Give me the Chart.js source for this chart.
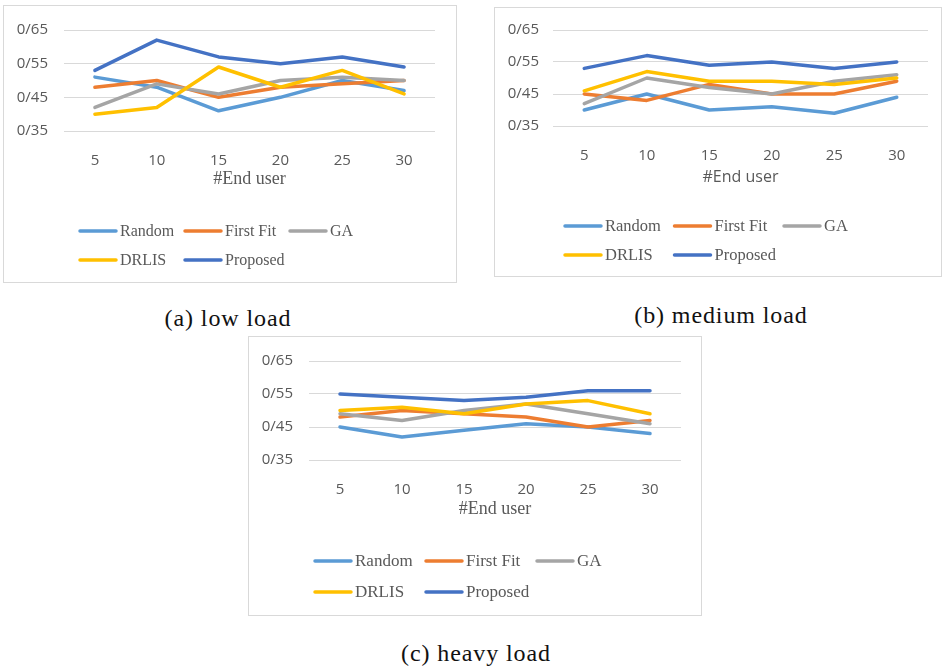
<!DOCTYPE html>
<html>
<head>
<meta charset="utf-8">
<script src="https://cdn.jsdelivr.net/npm/chart.js@4/dist/chart.umd.min.js"></script>
<style>
  html, body { margin: 0; padding: 0; background: #ffffff; }
  body { width: 943px; height: 666px; position: relative; overflow: hidden; }
  .frame { position: absolute; border: 1px solid #d9d9d9; box-sizing: border-box; }
  canvas { position: absolute; }
  .cap {
    position: absolute; transform: translate(-50%, -50%);
    font-family: "Liberation Serif", serif; font-size: 24px; letter-spacing: 0.9px;
    line-height: 1; color: #111; white-space: nowrap;
  }
</style>
</head>
<body>
<div class="frame" style="left:3px;top:5px;width:454px;height:278px"></div>
<canvas id="lowChart" width="454" height="278" style="left:3px;top:5px"></canvas>
<div class="frame" style="left:494px;top:7px;width:448px;height:270px"></div>
<canvas id="mediumChart" width="448" height="270" style="left:494px;top:7px"></canvas>
<div class="frame" style="left:248px;top:336px;width:454px;height:280px"></div>
<canvas id="heavyChart" width="454" height="280" style="left:248px;top:336px"></canvas>

<div class="cap" style="left:228px;top:318px">(a) low load</div>
<div class="cap" style="left:721px;top:315px">(b) medium load</div>
<div class="cap" style="left:476px;top:653px">(c) heavy load</div>

<script>
// Categories and axis ticks
const endUsers = ['5', '10', '15', '20', '25', '30'];
const yTickValues = [0.35, 0.45, 0.55, 0.65];
const seriesNames = ['Random', 'First Fit', 'GA', 'DRLIS', 'Proposed'];
const seriesColors = ['#5B9BD5', '#ED7D31', '#A5A5A5', '#FFC000', '#4472C4'];
const xAxisTitle = '#End user';

// Low load
const lowRandom   = [0.51, 0.48, 0.41, 0.45, 0.50, 0.47];
const lowFirstFit = [0.48, 0.50, 0.45, 0.48, 0.49, 0.50];
const lowGA       = [0.42, 0.49, 0.46, 0.50, 0.51, 0.50];
const lowDRLIS    = [0.40, 0.42, 0.54, 0.48, 0.53, 0.46];
const lowProposed = [0.53, 0.62, 0.57, 0.55, 0.57, 0.54];

// Medium load
const mediumRandom   = [0.40, 0.45, 0.40, 0.41, 0.39, 0.44];
const mediumFirstFit = [0.45, 0.43, 0.48, 0.45, 0.45, 0.49];
const mediumGA       = [0.42, 0.50, 0.47, 0.45, 0.49, 0.51];
const mediumDRLIS    = [0.46, 0.52, 0.49, 0.49, 0.48, 0.50];
const mediumProposed = [0.53, 0.57, 0.54, 0.55, 0.53, 0.55];

// Heavy load
const heavyRandom   = [0.45, 0.42, 0.44, 0.46, 0.45, 0.43];
const heavyFirstFit = [0.48, 0.50, 0.49, 0.48, 0.45, 0.47];
const heavyGA       = [0.49, 0.47, 0.50, 0.52, 0.49, 0.46];
const heavyDRLIS    = [0.50, 0.51, 0.49, 0.52, 0.53, 0.49];
const heavyProposed = [0.55, 0.54, 0.53, 0.54, 0.56, 0.56];

// Two-row legend laid out in fixed columns below the axis title
const gridLegend = {
  id: 'gridLegend',
  afterDraw(chart, args, opts) {
    const ctx = chart.ctx;
    ctx.save();
    ctx.font = opts.font;
    ctx.textBaseline = 'middle';
    ctx.textAlign = 'left';
    chart.data.datasets.forEach((ds, i) => {
      const x = opts.x + (i % 3) * opts.colWidth;
      const y = opts.y + Math.floor(i / 3) * opts.rowHeight;
      ctx.strokeStyle = ds.borderColor;
      ctx.lineWidth = 3.5;
      ctx.lineCap = 'round';
      ctx.beginPath();
      ctx.moveTo(x + 2, y);
      ctx.lineTo(x + opts.lineLen - 2, y);
      ctx.stroke();
      ctx.fillStyle = '#595959';
      ctx.fillText(ds.label, x + opts.lineLen + 2, y + 1);
    });
    ctx.restore();
  }
};

function buildChart(id, series, L) {
  const datasets = series.map((values, i) => ({
    label: seriesNames[i],
    data: values,
    borderColor: seriesColors[i],
    backgroundColor: seriesColors[i],
    borderWidth: 3.5,
    borderCapStyle: 'round',
    borderJoinStyle: 'round',
    pointRadius: 0,
    tension: 0,
    order: series.length - i
  }));
  return new Chart(document.getElementById(id), {
    type: 'line',
    data: { labels: endUsers, datasets },
    plugins: [gridLegend],
    options: {
      responsive: false,
      animation: false,
      layout: { padding: { left: 0, top: L.top, right: L.right, bottom: L.bottom } },
      plugins: {
        legend: { display: false },
        tooltip: { enabled: false },
        gridLegend: L.legend
      },
      scales: {
        x: {
          offset: true,
          grid: { display: false },
          border: { display: false },
          ticks: { color: '#595959', padding: L.xPad, font: { family: '"Open Sans"', size: 15 } },
          title: {
            display: true, text: xAxisTitle, color: '#595959', padding: 0,
            font: { family: L.titleFamily, size: L.titleSize }
          },
          afterFit(scale) { scale.height = L.xHeight; }
        },
        y: {
          min: 0.35, max: 0.65,
          afterBuildTicks(scale) { scale.ticks = yTickValues.map(v => ({ value: v })); },
          grid: { color: '#d9d9d9', lineWidth: 1, drawTicks: false },
          border: { display: false },
          ticks: {
            color: '#595959', padding: L.yPad,
            font: { family: '"Open Sans"', size: 15 },
            callback: v => v.toFixed(2).replace('.', '/')
          },
          afterFit(scale) { scale.width = L.yWidth; }
        }
      }
    }
  });
}

function drawAll() {
  buildChart('lowChart',
    [lowRandom, lowFirstFit, lowGA, lowDRLIS, lowProposed],
    { top: 21, right: 22, bottom: 93, xHeight: 59, yWidth: 61, yPad: 16, xPad: 13,
      titleFamily: '"Liberation Serif"', titleSize: 18,
      legend: { x: 75, y: 226, colWidth: 105, rowHeight: 29, lineLen: 40, font: '16px "Liberation Serif"' } });

  buildChart('mediumChart',
    [mediumRandom, mediumFirstFit, mediumGA, mediumDRLIS, mediumProposed],
    { top: 22, right: 14, bottom: 90, xHeight: 61, yWidth: 59, yPad: 14, xPad: 13,
      titleFamily: '"Open Sans"', titleSize: 16,
      legend: { x: 69, y: 219, colWidth: 109.5, rowHeight: 29, lineLen: 40, font: '16.5px "Liberation Serif"' } });

  buildChart('heavyChart',
    [heavyRandom, heavyFirstFit, heavyGA, heavyDRLIS, heavyProposed],
    { top: 20, right: 21, bottom: 96, xHeight: 60, yWidth: 61, yPad: 16, xPad: 13,
      titleFamily: '"Liberation Serif"', titleSize: 18,
      legend: { x: 65, y: 225, colWidth: 111, rowHeight: 31, lineLen: 40, font: '17px "Liberation Serif"' } });
}

// Canvas text needs the local fonts loaded before the first draw
Promise.all([
  document.fonts.load('15px "Open Sans"'),
  document.fonts.load('16px "Liberation Serif"'),
  document.fonts.load('24px "Liberation Serif"')
]).then(drawAll, drawAll);
</script>
</body>
</html>
